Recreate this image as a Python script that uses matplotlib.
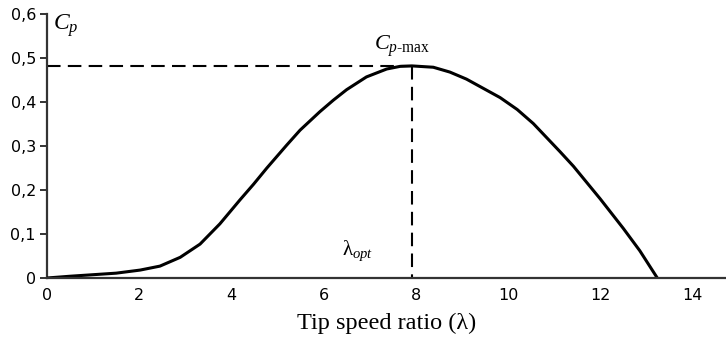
import matplotlib
matplotlib.use('Agg')
import matplotlib.pyplot as plt
from matplotlib.ticker import FuncFormatter

# Cp curve
tsr = [0, 0.5, 0.93, 1.5, 2.02, 2.45, 2.89, 3.32, 3.75, 4.19, 4.48, 4.77,
       5.20, 5.49, 5.92, 6.21, 6.50, 6.93, 7.37, 7.66, 7.92, 8.38, 8.74, 9.10,
       9.83, 10.20, 10.55, 10.84, 11.13, 11.42, 12.0, 12.50, 12.86, 13.24]
cp = [0, 0.004, 0.007, 0.011, 0.018, 0.027, 0.047, 0.077, 0.123, 0.178,
      0.213, 0.250, 0.302, 0.336, 0.378, 0.404, 0.428, 0.457, 0.475, 0.481,
      0.482, 0.479, 0.468, 0.452, 0.410, 0.383, 0.351, 0.319, 0.287, 0.254,
      0.180, 0.113, 0.062, 0.0]
lam_opt = 7.92
cp_max = 0.482

x_ticks = [0, 2, 4, 6, 8, 10, 12, 14]
y_ticks = [0, 0.1, 0.2, 0.3, 0.4, 0.5, 0.6]

plt.rcParams['mathtext.fontset'] = 'custom'
plt.rcParams['mathtext.rm'] = 'Liberation Serif'
plt.rcParams['mathtext.it'] = 'Liberation Serif:italic'

fig = plt.figure(figsize=(7.26, 3.4), dpi=100)
ax = fig.add_axes([47 / 726, 1 - 278 / 340, 1 - 47 / 726, (278 - 14) / 340])

ax.plot(tsr, cp, color='black', lw=2.2, solid_capstyle='round',
        solid_joinstyle='round', zorder=3)
ax.plot([0, lam_opt], [cp_max, cp_max], color='black', lw=1.5, dashes=(6.5, 3.5))
ax.plot([lam_opt, lam_opt], [cp_max, 0], color='black', lw=1.5, dashes=(6.5, 3.5))

ax.set_xlim(0, 14.73)
ax.set_ylim(0, 0.6)
ax.set_xticks(x_ticks)
ax.set_yticks(y_ticks)
ax.yaxis.set_major_formatter(FuncFormatter(lambda v, p: ('%g' % round(v, 1)).replace('.', ',')))

for s in ['top', 'right']:
    ax.spines[s].set_visible(False)
for s in ['left', 'bottom']:
    ax.spines[s].set_color('#333333')
    ax.spines[s].set_linewidth(1.6)
ax.spines['bottom'].set_zorder(4)

ax.tick_params(axis='y', direction='out', length=5, width=1.4, color='#333333',
               labelsize=11.5, pad=3)
ax.tick_params(axis='x', length=0, labelsize=11.5, pad=7)
for lab in ax.get_xticklabels() + ax.get_yticklabels():
    lab.set_family('DejaVu Sans')

ax.text(0.13, 0.603, '$C_p$', fontsize=17, va='top', ha='left')
ax.text(7.1, 0.497, r'$C_{p\mathrm{\text{-}max}}$', fontsize=16, va='bottom', ha='left')
ax.text(6.4, 0.035, 'λ$_{opt}$', fontsize=15, family='Liberation Serif', ha='left', va='bottom')

ax.set_xlabel('Tip speed ratio (λ)', fontsize=17.5, family='Liberation Serif', labelpad=7)

fig.savefig('out.png', dpi=100)
